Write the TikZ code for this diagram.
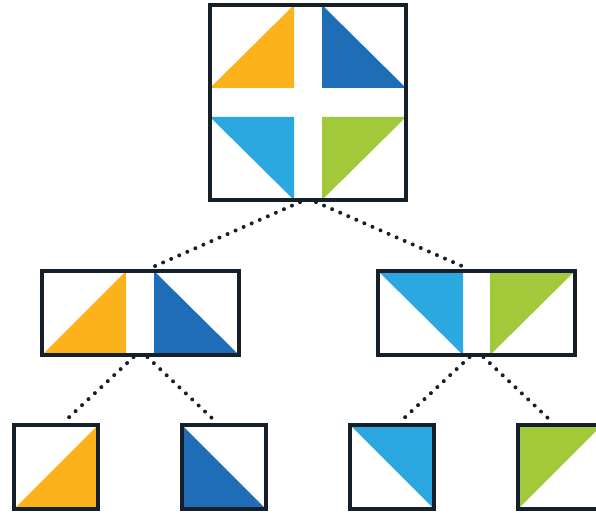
\documentclass[tikz,border=0pt]{standalone}
\usetikzlibrary{calc}
\definecolor{cOrange}{HTML}{FBB21B}
\definecolor{cDark}{HTML}{1E6DB6}
\definecolor{cLight}{HTML}{2BA8E0}
\definecolor{cGreen}{HTML}{A2C93A}
\definecolor{cFrame}{HTML}{15202B}
\tikzset{
  frame/.style={draw=cFrame, line width=4.2pt, inner sep=0pt, rectangle},
  bigbox/.style={frame, minimum width=196pt, minimum height=195pt},
  midbox/.style={frame, minimum width=197pt, minimum height=84pt},
  smallbox/.style={frame, minimum width=84pt, minimum height=84pt},
  link/.style={cFrame, line width=4pt, line cap=round, dash pattern=on 0pt off 8.8pt},
}
\begin{document}
\begin{tikzpicture}[x=1pt, y=-1pt]
\useasboundingbox (0,0) rectangle (596,513);
\clip (0,0) rectangle (596,513);

% coloured quarters of the root square
\fill[cOrange] (210,88) -- (294,5) -- (294,88) -- cycle;
\fill[cDark]   (322,5) -- (322,88) -- (406,88) -- cycle;
\fill[cLight]  (210,117) -- (294,117) -- (294,200) -- cycle;
\fill[cGreen]  (322,117) -- (406,117) -- (322,200) -- cycle;

% halves of the two middle boxes
\fill[cOrange] (42,355) -- (126,271) -- (126,355) -- cycle;
\fill[cDark]   (154,271) -- (154,355) -- (239,355) -- cycle;
\fill[cLight]  (378,271) -- (463,271) -- (463,355) -- cycle;
\fill[cGreen]  (490,271) -- (575,271) -- (490,355) -- cycle;

% single triangles of the leaves
\fill[cOrange] (14,509) -- (98,425) -- (98,509) -- cycle;
\fill[cDark]   (182,425) -- (182,509) -- (266,509) -- cycle;
\fill[cLight]  (350,425) -- (434,425) -- (434,509) -- cycle;
\fill[cGreen]  (518,425) -- (602,425) -- (518,509) -- cycle;

% frames
\node[bigbox]   (root) at (308,102.5) {};
\node[midbox]   (ml)   at (140.5,313) {};
\node[midbox]   (mr)   at (476.5,313) {};
\node[smallbox] (l1)   at (56,467) {};
\node[smallbox] (l2)   at (224,467) {};
\node[smallbox] (l3)   at (392,467) {};
\node[smallbox] (l4)   at (560,467) {};

% dotted tree links
\draw[link] ($(root.south)+(-8,0)$) -- ($(ml.north)+(8,0)$);
\draw[link] ($(root.south)+(8,0)$)  -- ($(mr.north)+(-8,0)$);
\draw[link] ($(ml.south)+(-7,0)$) -- ($(l1.north)+(7,0)$);
\draw[link] ($(ml.south)+(7,0)$)  -- ($(l2.north)+(-7,0)$);
\draw[link] ($(mr.south)+(-7,0)$) -- ($(l3.north)+(7,0)$);
\draw[link] ($(mr.south)+(7,0)$)  -- ($(l4.north)+(-7,0)$);
\end{tikzpicture}
\end{document}
